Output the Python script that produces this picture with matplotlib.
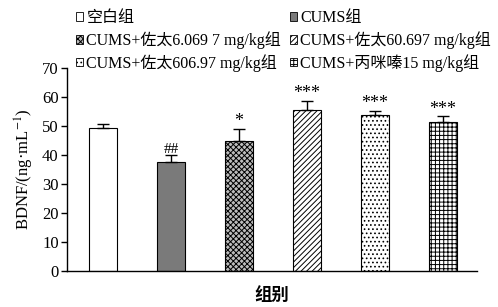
import matplotlib
matplotlib.use("Agg")
import matplotlib.pyplot as plt
from matplotlib.patches import Patch

plt.rcParams['font.family'] = ['Liberation Serif', 'Noto Sans CJK SC']
plt.rcParams['mathtext.fontset'] = 'stix'
plt.rcParams['hatch.linewidth'] = 0.7

groups = ['空白组', 'CUMS组', 'CUMS+佐太6.069 7 mg/kg组', 'CUMS+佐太60.697 mg/kg组',
          'CUMS+佐太606.97 mg/kg组', 'CUMS+丙咪嗪15 mg/kg组']
means = [49.3, 37.6, 44.8, 55.5, 53.8, 51.4]
errs = [1.4, 2.4, 4.2, 3.1, 1.4, 2.0]
sig = ['', '##', '*', '***', '***', '***']
yticks = [0, 10, 20, 30, 40, 50, 60, 70]

facecolors = ['white', '#7a7a7a', '#bdbdbd', 'white', 'white', 'white']
hatches = [None, None, 'xxxxxx', '//////', '....', '++++']

fig = plt.figure(figsize=(4.98, 3.07), dpi=100)
ax = fig.add_axes([0.1345, 0.1173, 0.958 - 0.1345, 0.7785 - 0.1173])

x = list(range(len(means)))
bars = ax.bar(x, means, width=0.41, color=facecolors, edgecolor='black', linewidth=0.8, zorder=2)
for b, h in zip(bars, hatches):
    if h:
        b.set_hatch(h)
ax.errorbar(x, means, yerr=[[0] * len(errs), errs], fmt='none', ecolor='black',
            elinewidth=1.0, capsize=4, capthick=1.0, zorder=3)
for xi, m, e, s in zip(x, means, errs, sig):
    if s:
        fs = 11 if s.startswith('#') else 13
        ax.annotate(s, (xi, m + e), xytext=(0, -1), textcoords='offset points',
                    ha='center', va='bottom', fontsize=fs)

ax.set_xlim(-0.53, 5.5)
ax.set_ylim(0, 70)
ax.set_yticks(yticks)
ax.set_yticklabels([str(t) for t in yticks], fontsize=12)
ax.set_xticks([])
ax.spines['top'].set_visible(False)
ax.spines['right'].set_visible(False)
ax.spines['left'].set_linewidth(1.0)
ax.spines['bottom'].set_linewidth(1.0)
ax.tick_params(axis='y', direction='out', length=4, width=1.0, pad=2)
ax.set_ylabel('BDNF/(ng·mL$^{-1}$)', fontsize=12, labelpad=4)
ax.set_xlabel('组别', fontsize=12.5, fontweight='bold', labelpad=12)

handles = [Patch(facecolor=fc, edgecolor='black', hatch=h, linewidth=0.6)
           for fc, h in zip(facecolors, hatches)]
leg_kw = dict(frameon=False, fontsize=11.5, handlelength=0.45, handleheight=0.45,
              handletextpad=0.2, labelspacing=0.32, borderpad=0, borderaxespad=0,
              loc='upper left')
leg1 = fig.legend([handles[0], handles[2], handles[4]], [groups[0], groups[2], groups[4]],
                  bbox_to_anchor=(76 / 498, 1 - 10 / 307), **leg_kw)
leg2 = fig.legend([handles[1], handles[3], handles[5]], [groups[1], groups[3], groups[5]],
                  bbox_to_anchor=(290 / 498, 1 - 10 / 307), **leg_kw)

fig.savefig('out.png', dpi=100)
